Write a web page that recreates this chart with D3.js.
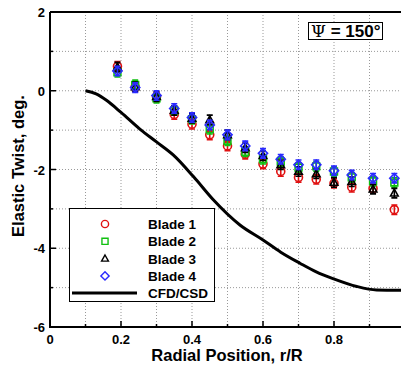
<!DOCTYPE html>
<html>
<head>
<meta charset="utf-8">
<script src="https://cdn.jsdelivr.net/npm/d3@7"></script>
<style>
  body { margin: 0; background: #fff; }
  svg { display: block; font-family: "Liberation Sans", Arial, sans-serif; }
</style>
</head>
<body>
<script>
// radial stations of the measurements
const radius = [0.19, 0.24, 0.30, 0.35, 0.40, 0.45, 0.50, 0.55, 0.60, 0.65, 0.70, 0.75, 0.80, 0.85, 0.91, 0.97];

// elastic twist per blade, deg.
const blade1 = [0.62, 0.10, -0.15, -0.60, -0.85, -1.12, -1.40, -1.61, -1.86, -2.05, -2.20, -2.25, -2.35, -2.45, -2.48, -3.02];
const blade2 = [0.47, 0.15, -0.19, -0.50, -0.72, -0.98, -1.27, -1.55, -1.74, -1.80, -1.95, -1.92, -2.05, -2.20, -2.30, -2.33];
const blade3 = [0.60, 0.10, -0.15, -0.50, -0.70, -0.74, -1.12, -1.45, -1.65, -1.88, -2.05, -2.11, -2.33, -2.31, -2.50, -2.60];
const blade4 = [0.50, 0.08, -0.12, -0.45, -0.68, -0.87, -1.12, -1.40, -1.59, -1.74, -1.88, -1.88, -2.03, -2.14, -2.22, -2.22];
const errBar = 0.12;

// CFD/CSD prediction
const cfdR = [0.10, 0.13, 0.16, 0.20, 0.254, 0.30, 0.347, 0.404, 0.46, 0.535, 0.60, 0.65, 0.704, 0.75, 0.80, 0.864, 0.92, 1.0];
const cfdV = [0.0, -0.08, -0.25, -0.55, -0.98, -1.30, -1.63, -2.18, -2.77, -3.41, -3.79, -4.10, -4.38, -4.60, -4.78, -4.97, -5.06, -5.07];

const xTicks = [0, 0.2, 0.4, 0.6, 0.8];
const yTicks = [2, 0, -2, -4, -6];

const W = 401, H = 368;
const m = { left: 50, top: 12, right: -4, bottom: 41 };

const svg = d3.select('body').append('svg')
  .attr('width', W).attr('height', H);

const x = d3.scaleLinear().domain([0, 1]).range([m.left, W - m.right]);
const y = d3.scaleLinear().domain([-6, 2]).range([H - m.bottom, m.top]);

// grid
const grid = svg.append('g').attr('stroke', '#999').attr('stroke-dasharray', '1,2').attr('stroke-width', 1);
grid.selectAll('line.v').data(d3.range(1, 10).map(d => d / 10)).enter().append('line')
  .attr('x1', d => x(d)).attr('x2', d => x(d)).attr('y1', y(2)).attr('y2', y(-6));
grid.selectAll('line.h').data(d3.range(-5, 2)).enter().append('line')
  .attr('y1', d => y(d)).attr('y2', d => y(d)).attr('x1', x(0)).attr('x2', x(1));

// CFD line
svg.append('path')
  .datum(d3.zip(cfdR, cfdV))
  .attr('fill', 'none').attr('stroke', '#000').attr('stroke-width', 3)
  .attr('d', d3.line().x(d => x(d[0])).y(d => y(d[1])).curve(d3.curveMonotoneX));

// marker shapes, s = half size
const shapes = {
  circle: s => `M${s},0A${s},${s} 0 1,1 ${-s},0A${s},${s} 0 1,1 ${s},0Z`,
  square: s => `M${-s * 0.85},${-s * 0.85}h${s * 1.7}v${s * 1.7}h${-s * 1.7}Z`,
  triangle: s => `M0,${-s}L${s * 0.95},${s * 0.7}H${-s * 0.95}Z`,
  diamond: s => `M0,${-s * 1.15}L${s * 1.15},0L0,${s * 1.15}L${-s * 1.15},0Z`
};
const series = [
  { name: 'Blade 1', vals: blade1, color: '#e01010', shape: 'circle' },
  { name: 'Blade 2', vals: blade2, color: '#10c010', shape: 'square' },
  { name: 'Blade 3', vals: blade3, color: '#000', shape: 'triangle' },
  { name: 'Blade 4', vals: blade4, color: '#2a2aff', shape: 'diamond' }
];

series.forEach(s => {
  const g = svg.append('g').attr('stroke', s.color).attr('fill', 'none').attr('stroke-width', 1.6);
  const pts = d3.zip(radius, s.vals);
  g.selectAll('path.eb').data(pts).enter().append('path')
    .attr('d', d => {
      const cx = x(d[0]), y0 = y(d[1] - errBar), y1 = y(d[1] + errBar);
      return `M${cx - 3},${y0}H${cx + 3}M${cx},${y0}V${y1}M${cx - 3},${y1}H${cx + 3}`;
    });
  g.selectAll('path.mk').data(pts).enter().append('path')
    .attr('transform', d => `translate(${x(d[0])},${y(d[1])})`)
    .attr('d', shapes[s.shape](4));
});

// axes frame
const frame = svg.append('g').attr('stroke', '#000').attr('stroke-width', 2).attr('fill', 'none');
frame.append('path').attr('d', `M${x(0)},${y(2)}H${x(1)}M${x(0)},${y(2)}V${y(-6)}H${x(1)}`);

// ticks
frame.selectAll('line.xt').data(d3.range(0, 11).map(d => d / 10)).enter().append('line')
  .attr('x1', d => x(d)).attr('x2', d => x(d))
  .attr('y1', y(-6)).attr('y2', (d, i) => y(-6) - (i % 2 ? 3 : 6)).attr('stroke-width', 1.5);
frame.selectAll('line.yt').data(d3.range(-6, 3)).enter().append('line')
  .attr('y1', d => y(d)).attr('y2', d => y(d))
  .attr('x1', x(0)).attr('x2', (d, i) => x(0) + (i % 2 ? 3 : 6)).attr('stroke-width', 1.5);

// tick labels
svg.append('g').selectAll('text').data(xTicks).enter().append('text')
  .attr('x', d => x(d)).attr('y', y(-6) + 17).attr('text-anchor', 'middle')
  .attr('font-size', 13).attr('font-weight', 'bold').text(d => d);
svg.append('g').selectAll('text').data(yTicks).enter().append('text')
  .attr('x', x(0) - 5).attr('y', d => y(d) + 5).attr('text-anchor', 'end')
  .attr('font-size', 13).attr('font-weight', 'bold').text(d => d);

// axis titles
svg.append('text').attr('x', 227).attr('y', 361).attr('text-anchor', 'middle')
  .attr('font-size', 16.5).attr('font-weight', 'bold').text('Radial Position, r/R');
svg.append('text').attr('transform', `translate(24,${166}) rotate(-90)`).attr('text-anchor', 'middle')
  .attr('font-size', 16.5).attr('font-weight', 'bold').text('Elastic Twist, deg.');

// psi label
svg.append('rect').attr('x', 308.5).attr('y', 22.5).attr('width', 74).attr('height', 17)
  .attr('fill', '#fff').attr('stroke', '#000').attr('stroke-width', 1);
const psi = svg.append('text').attr('x', 311).attr('y', 37).attr('font-size', 17).attr('font-weight', 'bold');
psi.append('tspan').attr('font-family', '"DejaVu Serif", serif').attr('font-weight', 'normal').text('Ψ');
psi.append('tspan').text(' = 150°');

// legend
const lg = svg.append('g');
lg.append('rect').attr('x', 69.5).attr('y', 208.5).attr('width', 145).attr('height', 93)
  .attr('fill', '#fff').attr('stroke', '#000').attr('stroke-width', 1);
series.forEach((s, i) => {
  const yy = 224 + i * 17.3;
  lg.append('path').attr('transform', `translate(105,${yy})`).attr('d', shapes[s.shape](3.6))
    .attr('fill', 'none').attr('stroke', s.color).attr('stroke-width', 1.4);
  lg.append('text').attr('x', 148).attr('y', yy + 5).attr('font-size', 13.5).attr('font-weight', 'bold').text(s.name);
});
lg.append('line').attr('x1', 72).attr('x2', 137).attr('y1', 293).attr('y2', 293)
  .attr('stroke', '#000').attr('stroke-width', 3);
lg.append('text').attr('x', 148).attr('y', 298).attr('font-size', 13.5).attr('font-weight', 'bold').text('CFD/CSD');
</script>
</body>
</html>
